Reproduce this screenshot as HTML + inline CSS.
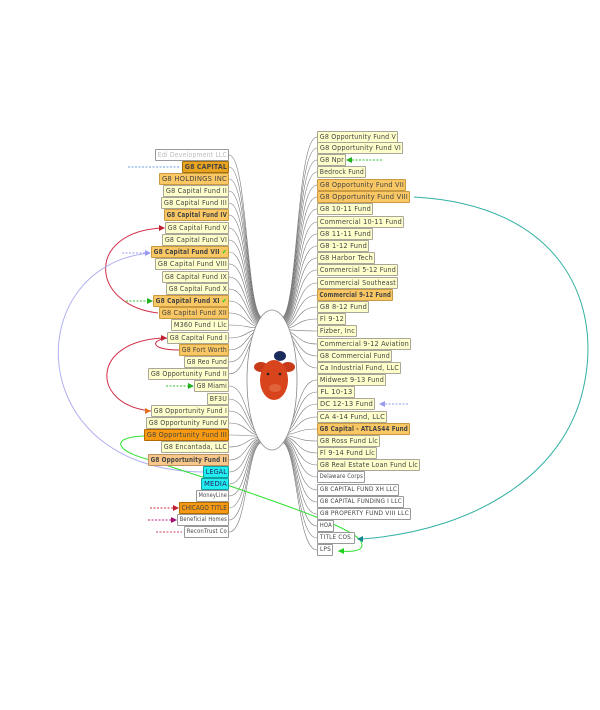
<!DOCTYPE html>
<html><head><meta charset="utf-8"><style>
body{margin:0;width:600px;height:710px;background:#fff;position:relative;overflow:hidden;font-family:"DejaVu Sans","Liberation Sans",sans-serif;}
.n{position:absolute;height:10px;line-height:10px;font-size:7px;color:#444;border:1px solid #aaa79a;border-radius:1px;background:#ffffcc;white-space:nowrap;box-sizing:content-box;overflow:hidden;letter-spacing:0.2px}
.n span{display:inline-block;transform-origin:0 50%;padding-left:2px}
.o{background:#f9c763;border-color:#c99a40}
.d{background:#e8a420;border-color:#a07010}
.r{background:#f79a12;border-color:#b06a00}
.p{background:#f7c88a;border-color:#c09060}
.c{background:#22eef0;border-color:#10a0a0;color:#226}
.w{background:#fff;border-color:#999;font-size:6px}
.b{font-weight:bold}
svg{position:absolute;left:0;top:0}
</style></head><body>
<svg id="s" width="600" height="710"></svg>
<div id="nodes"></div>
<script>
var L=[
["Edi Development LLC",155,155,"w","color:#bbb;font-size:7px"],
["G8 CAPITAL",167,182,"d b",""],
["G8 HOLDINGS INC",179,159,"o",""],
["G8 Capital Fund II",191,163,"",""],
["G8 Capital Fund III",203,161,"",""],
["G8 Capital Fund IV",215,164,"o b",""],
["G8 Capital Fund V",228,165,"",""],
["G8 Capital Fund VI",240,162,"",""],
["G8 Capital Fund VII ✔",252,151,"o b",""],
["G8 Capital Fund VIII",264,155,"",""],
["G8 Capital Fund IX",277,162,"",""],
["G8 Capital Fund X",289,166,"",""],
["G8 Capital Fund XI ✔",301,153,"o b",""],
["G8 Capital Fund XII",313,159,"o",""],
["M360 Fund I Llc",325,171,"",""],
["G8 Capital Fund I",338,167,"",""],
["G8 Fort Worth",350,179,"o",""],
["G8 Reo Fund",362,184,"",""],
["G8 Opportunity Fund II",374,148,"",""],
["G8 Miami",386,194,"",""],
["BF3U",399,207,"",""],
["G8 Opportunity Fund I",411,151,"",""],
["G8 Opportunity Fund IV",423,146,"",""],
["G8 Opportunity Fund III",435,144,"r",""],
["G8 Encantada, LLC",447,161,"",""],
["G8 Opportunity Fund II",460,148,"p b",""],
["LEGAL",472,203,"c",""],
["MEDIA",484,201,"c",""],
["MoneyLine",496,196,"w",""],
["CHICAGO TITLE",508,179,"r",""],
["Beneficial Homes",520,177,"w",""],
["ReconTrust Co",532,184,"w",""]];
var R=[
["G8 Opportunity Fund V",137,398,""],["G8 Opportunity Fund VI",148,403,""],["G8 Npr",160,346,""],["Bedrock Fund",172,366,""],
["G8 Opportunity Fund VII",185,406,"o"],["G8 Opportunity Fund VIII",197,410,"o"],["G8 10-11 Fund",209,373,""],["Commercial 10-11 Fund",222,404,""],
["G8 11-11 Fund",234,373,""],["G8 1-12 Fund",246,369,""],["G8 Harbor Tech",258,375,""],["Commercial 5-12 Fund",270,398,""],
["Commercial Southeast",283,398,""],["Commercial 9-12 Fund",295,393,"o b"],["G8 8-12 Fund",307,369,""],["Fl 9-12",319,346,""],
["Fizber, Inc",331,357,""],["Commercial 9-12 Aviation",344,411,""],["G8 Commercial Fund",356,392,""],["Ca Industrial Fund, LLC",368,401,""],
["Midwest 9-13 Fund",380,386,""],["FL 10-13",392,355,""],["DC 12-13 Fund",404,375,""],["CA 4-14 Fund, LLC",417,387,""],
["G8 Capital - ATLAS44 Fund",429,410,"o b"],["G8 Ross Fund Llc",441,380,""],["Fl 9-14 Fund Llc",453,377,""],["G8 Real Estate Loan Fund Llc",465,420,""],
["Delaware Corps",477,365,"w"],["G8 CAPITAL FUND XH LLC",490,399,"w"],["G8 CAPITAL FUNDING I LLC",502,404,"w"],["G8 PROPERTY FUND VIII LLC",514,411,"w"],
["HOA",526,334,"w"],["TITLE COS.",538,355,"w"],["LPS",550,333,"w"]];
var h="",p="";
L.forEach(function(a){var y=a[1],x=a[2],w=229-x-2;
var t=a[0].replace("✔",'<b style="color:#2c2">✔</b>');
h+='<div class="n '+a[3]+'" style="left:'+x+'px;top:'+(y-6)+'px;width:'+w+'px;'+a[4]+'"><span>'+t+'</span></div>';
var ye=y<380?318+(y-155)*0.06:442-(532-y)*0.06;
p+='<path d="M229,'+y+' C248,'+y+' 246,'+ye+' 263,'+ye+'" />';});
R.forEach(function(a){var y=a[1],x=317,w=a[2]-x-2;
h+='<div class="n '+a[3]+'" style="left:'+x+'px;top:'+(y-6)+'px;width:'+w+'px"><span>'+a[0]+'</span></div>';
var ye=y<380?318+(y-137)*0.06:442-(550-y)*0.06;
p+='<path d="M317,'+y+' C296,'+y+' 298,'+ye+' 281,'+ye+'" />';});
document.getElementById("nodes").innerHTML=h;
document.querySelectorAll(".n").forEach(function(n){var s=n.firstChild;var avail=n.clientWidth-1;var sw=s.getBoundingClientRect().width;if(sw>avail){s.style.transform="scaleX("+(avail/sw)+")";}else{s.style.marginLeft=((avail-sw)/2)+"px";}});
document.getElementById("s").innerHTML='<g fill="none" stroke="#777" stroke-width="0.6">'+p+'</g>'+
'<ellipse cx="272" cy="380" rx="25" ry="70" fill="#fff" stroke="#888" stroke-width="0.8"/>'+
'<g><ellipse cx="261" cy="367" rx="7" ry="5" fill="#c83a18"/><ellipse cx="288" cy="367" rx="7" ry="5" fill="#c83a18"/><ellipse cx="274" cy="380" rx="14" ry="20" fill="#d8441c"/><ellipse cx="275" cy="388" rx="6" ry="4" fill="#e0623a"/><ellipse cx="280" cy="356" rx="6" ry="5" fill="#1a2a5a"/><circle cx="268" cy="374" r="1.3" fill="#222"/><circle cx="280" cy="374" r="1.3" fill="#222"/></g>'+
'<g fill="none" stroke-width="1">'+
'<path d="M414,197 C560,205 600,300 585,380 C570,470 480,530 362,539" stroke="#30b0a0"/>'+
'<path d="M158,313 C90,305 85,232 162,228" stroke="#d0304a"/>'+
'<path d="M151,411 C90,405 90,340 165,338" stroke="#d0304a"/>'+
'<path d="M179,350 C150,350 150,340 168,338" stroke="#d0304a"/>'+
'<path d="M150,253 C20,265 20,470 203,472" stroke="#b0b0f0"/>'+
'<path d="M144,436 C112,437 112,450 150,460 L230,486 C300,510 350,528 360,540 C368,552 350,552 338,551" stroke="#30e030"/>'+
'</g><g fill="none" stroke-width="1" stroke-dasharray="2,1.5">'+
'<path d="M128,167 L180,167" stroke="#6aa0e0"/><path d="M122,253 L148,253" stroke="#9a9af0"/>'+
'<path d="M126,301 L150,301" stroke="#30c030"/><path d="M166,386 L192,386" stroke="#30c030"/>'+
'<path d="M382,160 L352,160" stroke="#30c030"/><path d="M408,404 L383,404" stroke="#9a9af0"/>'+
'<path d="M150,508 L177,508" stroke="#d03040"/><path d="M148,520 L175,520" stroke="#c02080"/><path d="M156,532 L182,532" stroke="#d04060"/>'+
'</g><g>'+
'<polygon points="165,228 159,225 159,231" fill="#c02030"/><polygon points="167,338 161,335 161,341" fill="#c02030"/><polygon points="151,411 145,408 145,414" fill="#e07020"/>'+
'<polygon points="151,253 145,250 145,256" fill="#9a9af0"/><polygon points="153,301 147,298 147,304" fill="#20b020"/><polygon points="194,386 188,383 188,389" fill="#20b020"/>'+
'<polygon points="346,160 352,157 352,163" fill="#20b020"/><polygon points="379,404 385,401 385,407" fill="#9a9af0"/><polygon points="338,551 344,548 344,554" fill="#20d020"/><polygon points="357,539 363,536 363,542" fill="#108a90"/>'+
'<polygon points="179,508 173,505 173,511" fill="#c02030"/><polygon points="177,520 171,517 171,523" fill="#a01070"/>'+
'</g>';
</script>
</body></html>
